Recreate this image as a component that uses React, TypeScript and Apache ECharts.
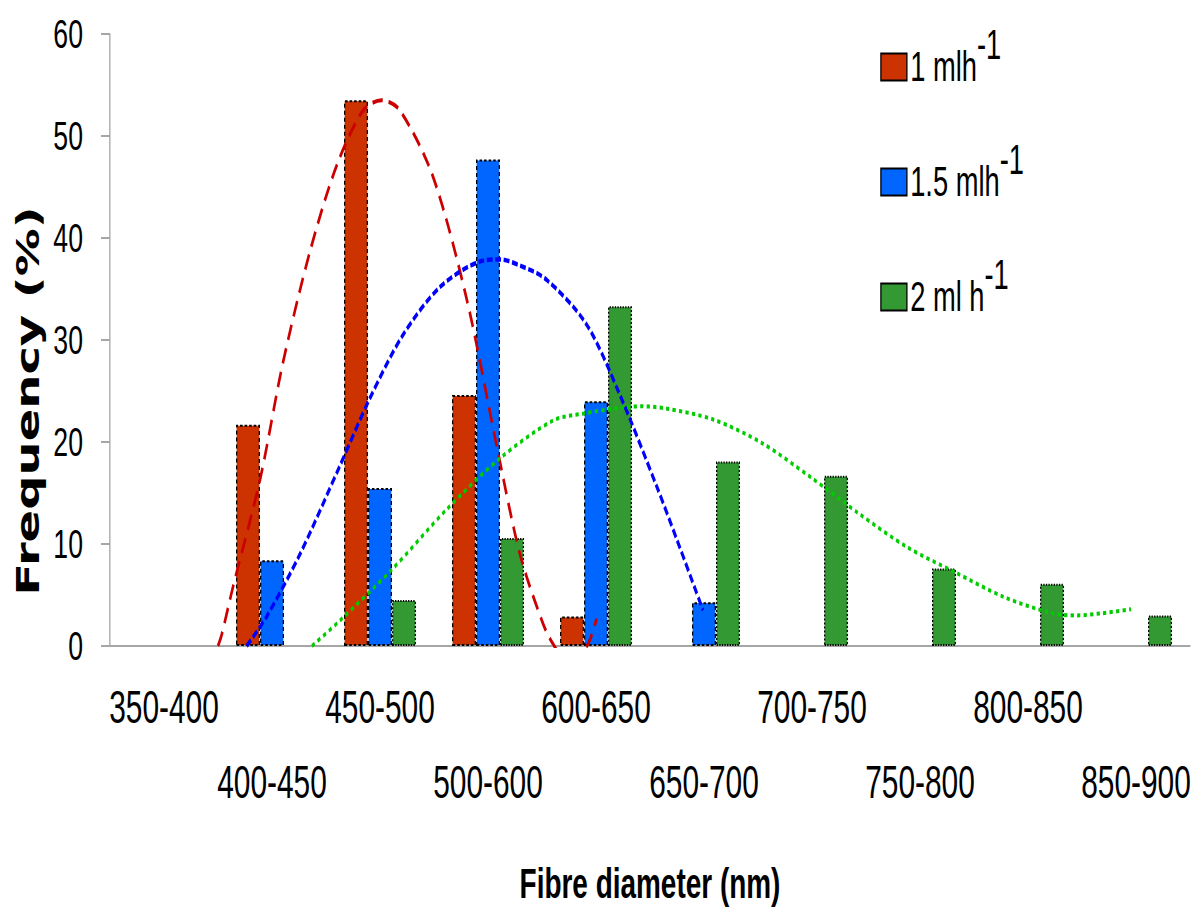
import React, { useEffect, useRef } from "react";
import * as echarts from "echarts";

// ---- data ----
const categories = ["350-400", "400-450", "450-500", "500-600", "600-650", "650-700", "700-750", "750-800", "800-850", "850-900"];
const rate1 = [0, 21.7, 53.5, 24.6, 2.9, 0, 0, 0, 0, 0];
const rate15 = [0, 8.4, 15.5, 47.7, 24.0, 4.3, 0, 0, 0, 0];
const rate2 = [0, 0, 4.5, 10.6, 33.3, 18.1, 16.7, 7.6, 6.1, 3.0];
const seriesNames = ["1 mlh", "1.5 mlh", "2 ml h"];
const yTicks = { min: 0, max: 60, interval: 10 };

// fitted trend curves: [position in category units, frequency]
const trend1 = [
  [1.0, 0], [1.034, 1.1], [1.139, 5.8], [1.389, 16.3], [1.602, 27.8], [1.852, 38.7], [2.099, 47.1],
  [2.343, 52.5], [2.516, 53.5], [2.685, 52.5], [2.991, 46.0], [3.303, 34.0], [3.581, 19.6], [3.796, 9.0],
  [4.009, 2.2], [4.102, 0.2], [4.26, -2.0], [4.426, 0.2], [4.506, 2.7],
];
const trend15 = [
  [1.266, 0], [1.451, 2.9], [1.759, 9.0], [2.13, 17.7], [2.407, 24.3], [2.713, 30.5], [3.056, 35.2],
  [3.426, 37.7], [3.611, 37.9], [3.796, 37.3], [4.043, 35.9], [4.414, 31.5], [4.722, 24.6], [5.064, 15.6],
  [5.25, 10.4], [5.491, 3.5],
];
const trend2 = [
  [1.87, 0], [2.13, 2.5], [2.62, 7.6], [3.118, 13.4], [3.611, 18.4], [4.102, 22.1], [4.389, 22.8],
  [4.69, 23.3], [4.914, 23.5], [5.139, 23.3], [5.587, 22.2], [6.036, 19.9], [6.481, 16.6], [6.932, 13.0],
  [7.38, 9.7], [7.83, 7.2], [8.278, 4.8], [8.727, 3.2], [8.951, 3.0], [9.176, 3.2], [9.454, 3.6],
];

// ---- layout (horizontal squash like the reference) ----
const S = 0.65;
const W = Math.round(1195 / S);
const H = 910;
const px = (x: number) => x / S;

const SANS = "'Liberation Sans', Arial, sans-serif";

export default function App() {
  const ref = useRef<HTMLDivElement>(null);
  useEffect(() => {
    if (!ref.current) return;
    const chart = echarts.init(ref.current, undefined, { renderer: "svg", width: W, height: H });
    const nz = (arr: number[]) => arr.map((v) => (v === 0 ? "-" : v));
    const axisGray = "#A6A6A6";
    const xLabelStyle = { fontFamily: SANS, fontSize: 46, color: "#000" };
    const option: any = {
      animation: false,
      backgroundColor: "#fff",
      grid: { left: px(110), right: W - px(1190), top: 34, bottom: H - 646, containLabel: false },
      legend: {
        orient: "vertical",
        left: px(877),
        top: 19,
        itemGap: 29,
        itemWidth: px(26),
        itemHeight: 27,
        icon: "rect",
        data: seriesNames,
        formatter: (name: string) => `{n|${name}}{s|-1}`,
        textStyle: {
          rich: {
            n: { fontFamily: SANS, fontSize: 42, lineHeight: 42, color: "#000" },
            s: { fontFamily: SANS, fontSize: 42, lineHeight: 42, color: "#000", padding: [0, 0, 44, 0] },
          },
        },
      },
      xAxis: [
        {
          type: "category",
          data: categories,
          axisLine: { lineStyle: { color: axisGray, width: 2 } },
          axisTick: { length: 17, lineStyle: { color: axisGray, width: 2 } },
          axisLabel: { ...xLabelStyle, interval: (i: number) => i % 2 === 0, margin: 38 },
          name: "Fibre diameter (nm)",
          nameLocation: "middle",
          nameGap: 216,
          nameTextStyle: { fontFamily: SANS, fontWeight: "bold", fontSize: 43, color: "#000" },
        },
        { type: "value", min: 0, max: categories.length, show: false },
        {
          type: "category",
          data: categories,
          position: "bottom",
          axisLine: { show: false },
          axisTick: { show: false },
          axisLabel: { ...xLabelStyle, interval: (i: number) => i % 2 === 1, margin: 113 },
        },
      ],
      yAxis: {
        type: "value",
        min: yTicks.min,
        max: yTicks.max,
        interval: yTicks.interval,
        axisLine: { show: true, lineStyle: { color: axisGray, width: 2 } },
        axisTick: { show: true, length: px(9), lineStyle: { color: axisGray, width: 2 } },
        splitLine: { show: false },
        axisLabel: { fontFamily: SANS, fontSize: 41, margin: px(27), color: "#000" },
      },
      graphic: [
        {
          type: "text",
          x: px(28),
          y: 401,
          rotation: Math.PI / 2,
          style: {
            text: "Frequency (%)",
            fontFamily: "'DejaVu Sans', sans-serif",
            fontWeight: "bold",
            fontSize: 48,
            fill: "#000",
            align: "center",
            verticalAlign: "middle",
          },
        },
      ],
      series: [
        {
          type: "bar", name: seriesNames[0], data: nz(rate1), barGap: "0%", barCategoryGap: "33.33%",
          itemStyle: { color: "#CC3300", borderColor: "#000", borderWidth: 2, borderType: [4, 3] },
        },
        {
          type: "bar", name: seriesNames[1], data: nz(rate15), barGap: "0%", barCategoryGap: "33.33%",
          itemStyle: { color: "#0066FF", borderColor: "#000", borderWidth: 2, borderType: [4, 3] },
        },
        {
          type: "bar", name: seriesNames[2], data: nz(rate2), barGap: "0%", barCategoryGap: "33.33%",
          itemStyle: { color: "#339933", borderColor: "#000", borderWidth: 2, borderType: [2, 2] },
        },
        {
          type: "line", name: "fit 1", xAxisIndex: 1, data: trend1, smooth: 0.3, showSymbol: false, silent: true, z: 5,
          lineStyle: { color: "#CC0000", width: 4, type: [16, 9] },
        },
        {
          type: "line", name: "fit 1.5", xAxisIndex: 1, data: trend15, smooth: 0.3, showSymbol: false, silent: true, z: 5,
          lineStyle: { color: "#0000FF", width: 4.5, type: [9, 4] },
        },
        {
          type: "line", name: "fit 2", xAxisIndex: 1, data: trend2, smooth: 0.3, showSymbol: false, silent: true, z: 5,
          lineStyle: { color: "#00CC00", width: 4, type: [5, 5] },
        },
      ],
    };
    chart.setOption(option);
    return () => chart.dispose();
  }, []);

  return (
    <div style={{ position: "absolute", left: 0, top: 0, width: 1195, height: 910, overflow: "hidden", background: "#fff" }}>
      <div ref={ref} style={{ width: W, height: H, transform: `scaleX(${S})`, transformOrigin: "0 0" }} />
    </div>
  );
}
